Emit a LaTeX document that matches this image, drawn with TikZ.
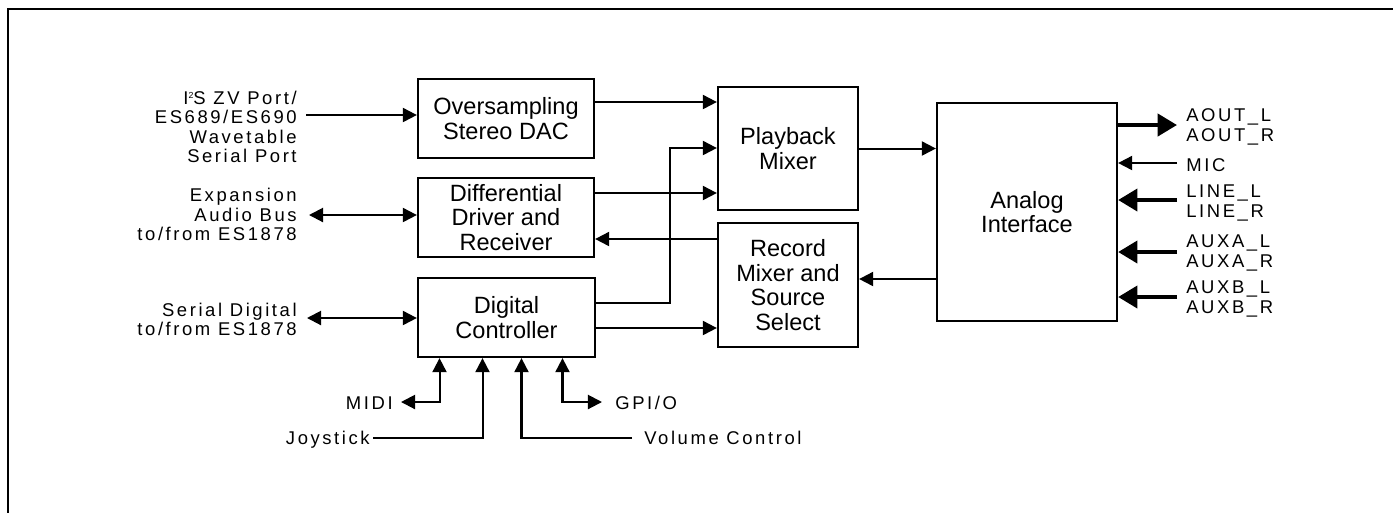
\documentclass[tikz,border=0pt]{standalone}
\usepackage{fontspec}
\setmainfont{Liberation Sans}
\newfontfamily\spcfont[LetterSpace=14]{Liberation Sans}
\usetikzlibrary{arrows.meta,positioning}
\newcommand{\suptwo}{\raisebox{3.4pt}{\fontsize{5}{5}\selectfont 2}}
\tikzset{
  blk/.style={rectangle,draw,line width=1.3pt,inner sep=0pt,align=center,
              font=\fontsize{13.4}{13.9}\selectfont},
  lbl/.style={inner sep=0pt,font=\spcfont\fontsize{10.5}{11}\selectfont},
  flow/.style={-{Triangle[length=8pt,width=8pt]},line width=1.15pt},
  biflow/.style={{Triangle[length=8pt,width=8pt]}-{Triangle[length=8pt,width=8pt]},line width=1.15pt},
  bus/.style={-{Triangle[length=11pt,width=12.5pt]},line width=2.4pt},
}

\begin{document}
\begin{tikzpicture}[x=0.02cm,y=-0.02cm]
  \clip (0,0) rectangle (1393,512);
  \draw[line width=1.2pt] (8,9) rectangle (1420,540);

  % blocks
  \node[blk,minimum width=3.52cm,minimum height=1.58cm] (dac) at (506,118.5) {Oversampling\\Stereo DAC};
  \node[blk,minimum width=3.52cm,minimum height=1.58cm] (diff) at (506,217.5) {Differential\\Driver and\\Receiver};
  \node[blk,minimum width=3.54cm,minimum height=1.58cm] (dctl) at (506.5,317.5) {Digital\\Controller};
  \node[blk,minimum width=2.8cm,minimum height=2.46cm] (pbmix) at (788,148.5) {Playback\\Mixer};
  \node[blk,minimum width=2.8cm,minimum height=2.48cm] (recmix) at (788,285) {Record\\Mixer and\\Source\\Select};
  \node[blk,minimum width=3.6cm,minimum height=4.36cm] (analog) at (1027,212) {Analog\\Interface};

  % left side labels
  \node[lbl,anchor=east,align=right] (i2sl) at (297,127) {I\suptwo S ZV Port/\\ES689/ES690\\Wavetable\\Serial Port};
  \node[lbl,anchor=east,align=right] (expl) at (297,214.5) {Expansion\\Audio Bus\\to/from ES1878};
  \node[lbl,anchor=east,align=right] (sdigl) at (297,319.5) {Serial Digital\\to/from ES1878};

  % right side labels
  \node[lbl,anchor=west,align=left] (aoutl) at (1186,127) {AOUT\_L\\AOUT\_R};
  \node[lbl,anchor=base west] (micl) at (1186,171) {MIC};
  \node[lbl,anchor=west,align=left] (linel) at (1186,203) {LINE\_L\\LINE\_R};
  \node[lbl,anchor=west,align=left] (auxal) at (1186,253) {AUXA\_L\\AUXA\_R};
  \node[lbl,anchor=west,align=left] (auxbl) at (1186,299) {AUXB\_L\\AUXB\_R};

  % bottom labels
  \node[lbl,anchor=base east] (midil) at (393,409) {MIDI};
  \node[lbl,anchor=base east] (joyl) at (370,444) {Joystick};
  \node[lbl,anchor=base west] (voll) at (644,444) {Volume Control};
  \node[lbl,anchor=base west] (gpiol) at (615,409) {GPI/O};

  % free ends and levels
  \coordinate (i2s) at (306,115);
  \coordinate (exp) at (309,215);
  \coordinate (sdig) at (307,318);
  \coordinate (aout) at (1177,125);
  \coordinate (mic) at (1177,163);
  \coordinate (linein) at (1177,200);
  \coordinate (auxa) at (1177,252);
  \coordinate (auxb) at (1177,297);
  \coordinate (midi) at (401,402);
  \coordinate (joy) at (373,438);
  \coordinate (vol) at (632,438);
  \coordinate (gpio) at (602,402);
  \coordinate (r1) at (0,102);
  \coordinate (r2) at (0,193);
  \coordinate (r3) at (0,303);
  \coordinate (r4) at (0,239);
  \coordinate (r5) at (0,328);
  \coordinate (r7) at (0,279);
  \coordinate (jog) at (670,148);

  % inputs on the left
  \draw[flow] (i2s) -- (dac.west |- i2s);
  \draw[biflow] (exp) -- (diff.west |- exp);
  \draw[biflow] (sdig) -- (dctl.west |- sdig);

  % internal paths
  \draw[flow] (dac.east |- r1) -- (pbmix.west |- r1);
  \draw[flow] (diff.east |- r2) -- (pbmix.west |- r2);
  \draw[flow] (dctl.east |- r3) -| (jog) -- (pbmix.west |- jog);
  \draw[flow] (recmix.west |- r4) -- (diff.east |- r4);
  \draw[flow] (dctl.east |- r5) -- (recmix.west |- r5);
  \draw[flow] (pbmix.east) -- (pbmix.east -| analog.west);
  \draw[flow] (analog.west |- r7) -- (recmix.east |- r7);

  % analog pins
  \draw[bus] (analog.east |- aout) -- (aout);
  \draw[flow] (mic) -- (analog.east |- mic);
  \draw[bus] (linein) -- (analog.east |- linein);
  \draw[bus] (auxa) -- (analog.east |- auxa);
  \draw[bus] (auxb) -- (analog.east |- auxb);

  % controller pins
  \draw[biflow] (midi) -| ([xshift=-1.34cm]dctl.south);
  \draw[flow] (joy) -| ([xshift=-0.48cm]dctl.south);
  \draw[flow] (vol) -| ([xshift=0.30cm]dctl.south);
  \draw[biflow] ([xshift=1.12cm]dctl.south) |- (gpio);
\end{tikzpicture}
\end{document}
